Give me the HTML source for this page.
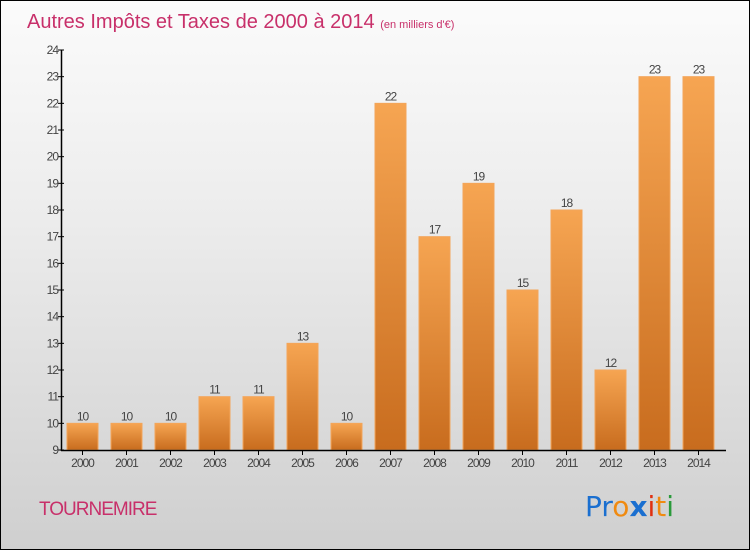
<!DOCTYPE html>
<html><head><meta charset="utf-8"><style>
body{margin:0}
#c{position:relative;width:748px;height:548px;border:1px solid #000;background:linear-gradient(#fbfbfb,#ececec 40%,#cfcfcf);font-family:"Liberation Sans","DejaVu Sans",sans-serif;overflow:hidden}
</style></head><body>
<div id="c">
<svg width="748" height="548" id="s">
<defs><linearGradient id="g" x1="0" y1="0" x2="0" y2="1"><stop offset="0" stop-color="#f6a552"/><stop offset="1" stop-color="#c86c1e"/></linearGradient></defs>
<text x="26" y="27" font-size="20" fill="#c8306a">Autres Impôts et Taxes de 2000 à 2014 <tspan font-size="11">(en milliers d'€)</tspan></text>
<text x="38" y="514" font-size="19" fill="#c8306a" letter-spacing="-1">TOURNEMIRE</text>
<g font-size="28" font-family="'DejaVu Sans',sans-serif">
<text x="584" y="515"><tspan fill="#1a6fd0">Pr</tspan><tspan fill="#f08a10">o</tspan><tspan fill="#1a6fd0" font-weight="bold">x</tspan><tspan fill="#e03010">i</tspan><tspan fill="#f08a10">t</tspan><tspan fill="#2a9a3a">i</tspan></text></g>
<g id="plot"></g>
</svg></div>
<script>
const years=["2000","2001","2002","2003","2004","2005","2006","2007","2008","2009","2010","2011","2012","2013","2014"];
const values=[10,10,10,11,11,13,10,22,17,19,15,18,12,23,23];
const yTicks=[9,10,11,12,13,14,15,16,17,18,19,20,21,22,23,24];
const NS="http://www.w3.org/2000/svg";
const g=document.getElementById('plot');
const y=v=>449-(v-9)*(400/15);
const x=i=>81+i*44;
function el(t,a){const e=document.createElementNS(NS,t);for(const k in a)e.setAttribute(k,a[k]);g.appendChild(e);return e;}
yTicks.forEach(t=>{
 const l=el('line',{x1:57,x2:63,y1:y(t),y2:y(t),stroke:'#000'});
 
 
 const tx=el('text',{x:57,y:y(t)+4,'font-size':12,fill:'#444','text-anchor':'end','letter-spacing':'-1'});tx.textContent=t;
 
 
});
values.forEach((v,i)=>{
 const r=el('rect',{x:x(i)-15,y:y(v),width:31,height:y(9)-y(v),fill:'url(#g)',stroke:'#f3a55a','stroke-width':1});
 
 
 const vl=el('text',{x:x(i)+0.5,y:y(v)-3,'font-size':12,fill:'#444','text-anchor':'middle','letter-spacing':'-1'});vl.textContent=v;
 
 
 const tk=el('line',{x1:x(i)+0.5,x2:x(i)+0.5,y1:449,y2:454,stroke:'#000'});
 
 
 const xl=el('text',{x:x(i)+0.5,y:466,'font-size':12,fill:'#444','text-anchor':'middle','letter-spacing':'-1'});xl.textContent=years[i];
 
 
});
const ya=el('line',{x1:60.5,x2:60.5,y1:y(24),y2:450,stroke:'#000','stroke-width':1.5});


const xa=el('line',{x1:60,x2:725,y1:449.5,y2:449.5,stroke:'#000','stroke-width':1.5});


</script>
</body></html>
